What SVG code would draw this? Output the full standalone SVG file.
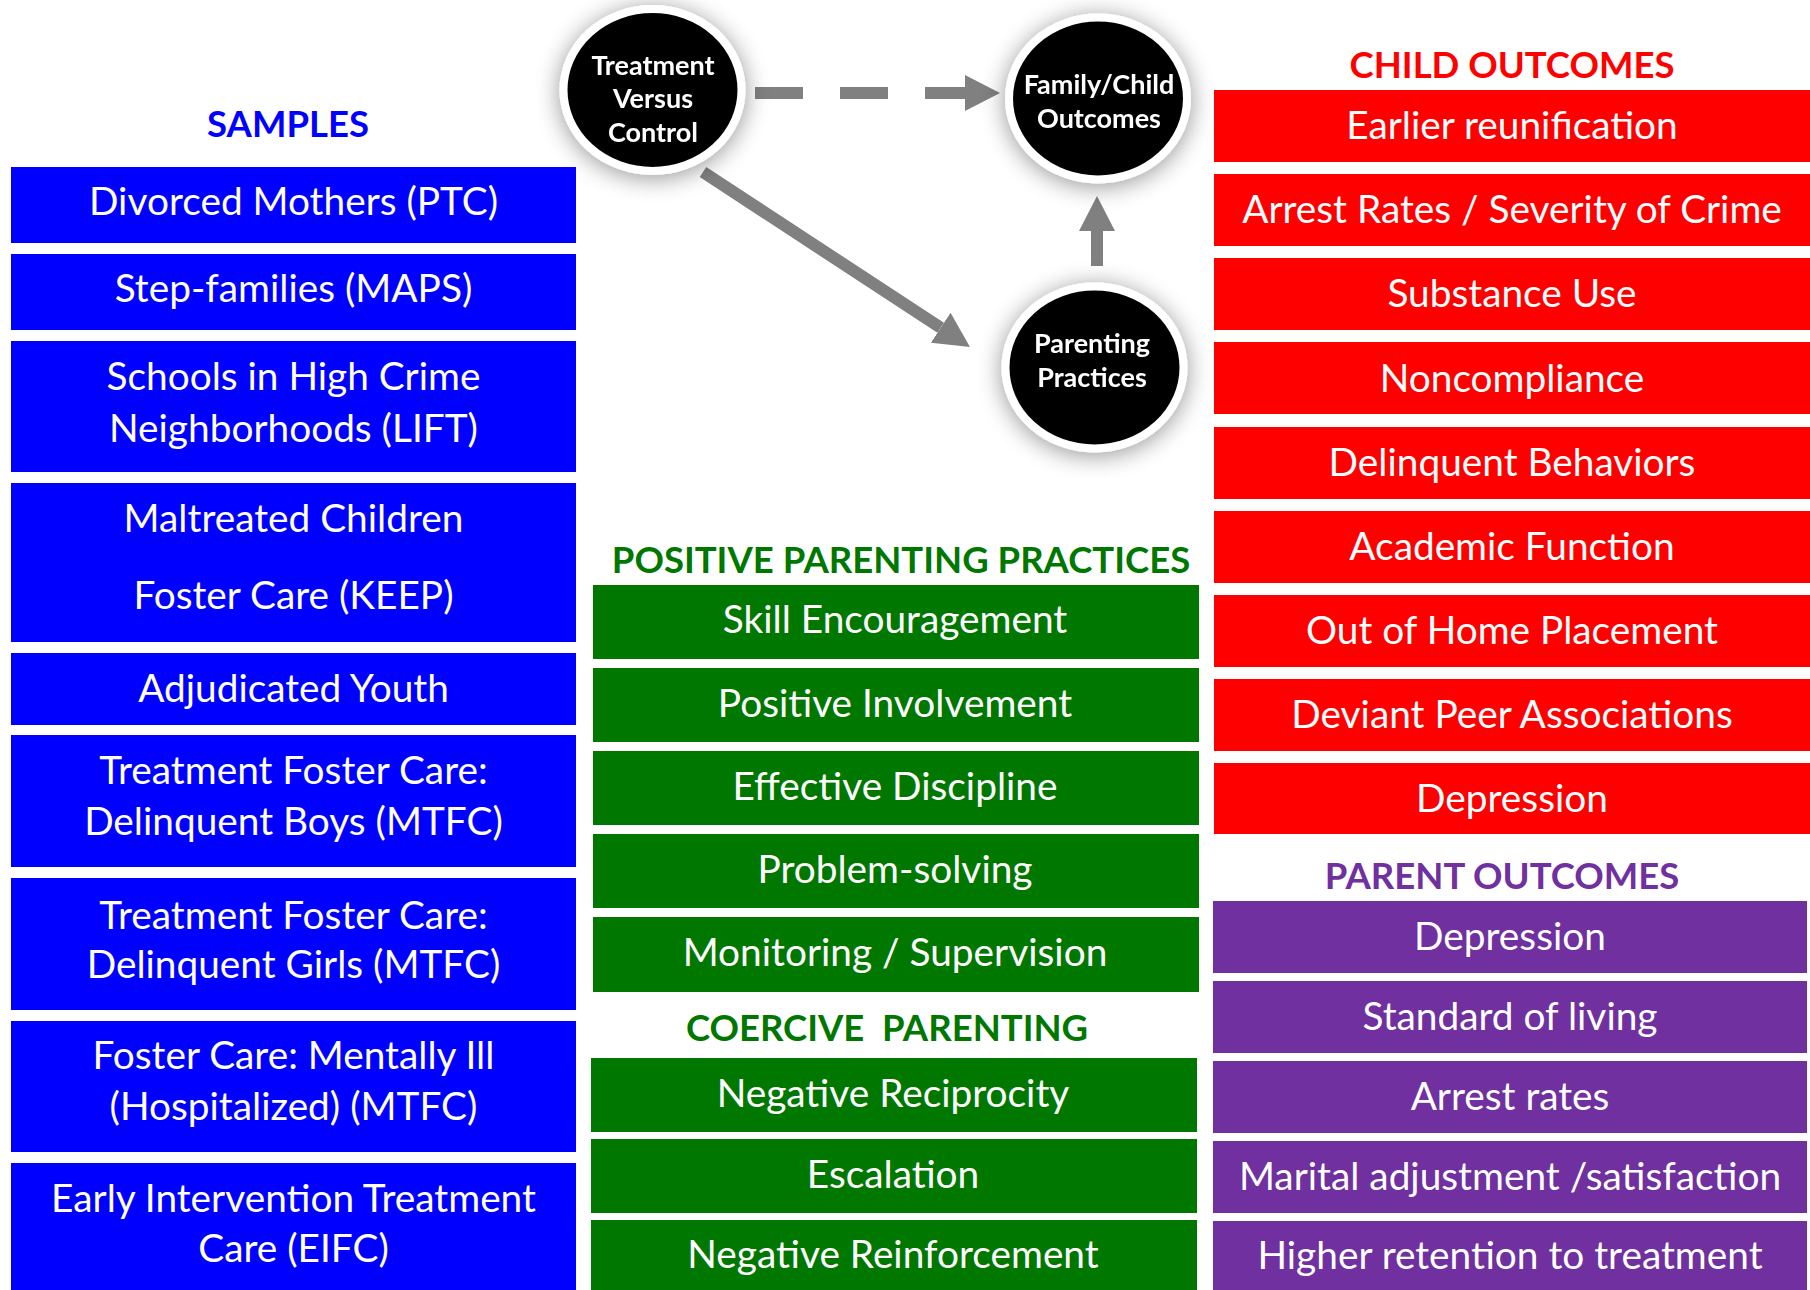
<svg xmlns="http://www.w3.org/2000/svg" width="1810" height="1290" viewBox="0 0 1810 1290">
<defs>
<style>
.t{font-family:Lato,"Open Sans","Liberation Sans",sans-serif;font-size:38.8px;fill:#fff;text-anchor:middle}
.h{font-family:Lato,"Open Sans","Liberation Sans",sans-serif;font-size:36.5px;font-weight:700;text-anchor:middle}
.c{font-family:Lato,"Open Sans","Liberation Sans",sans-serif;font-size:27px;font-weight:700;fill:#fff;text-anchor:middle}
.blue{fill:#0000ff}.green{fill:#007800}.red{fill:#ff0000}.purple{fill:#7030a0}
.circ{fill:#060606;stroke:#fff;stroke-width:8}
.arr{stroke:#808080;stroke-width:12;fill:none}
</style>
<marker id="ah" markerUnits="userSpaceOnUse" markerWidth="36" markerHeight="36" refX="0" refY="18" orient="auto" viewBox="0 0 36 36">
<path d="M0,0 L35,18 L0,36 z" fill="#808080"/>
</marker>
<filter id="glow" x="-50%" y="-50%" width="200%" height="200%">
<feGaussianBlur in="SourceAlpha" stdDeviation="12"/>
<feComponentTransfer><feFuncA type="linear" slope="0.42"/></feComponentTransfer>
<feOffset dx="0" dy="3"/>
<feMerge><feMergeNode/><feMergeNode in="SourceGraphic"/></feMerge>
</filter>
</defs>
<rect width="1810" height="1290" fill="#fff"/>

<!-- Headers -->
<text class="h blue" x="288" y="137">SAMPLES</text>
<text class="h green" x="901" y="573">POSITIVE PARENTING PRACTICES</text>
<text class="h green" x="887" y="1041" xml:space="preserve">COERCIVE  PARENTING</text>
<text class="h red" x="1512" y="78">CHILD OUTCOMES</text>
<text class="h purple" x="1502" y="889">PARENT OUTCOMES</text>

<!-- Connectors -->
<g id="connectors">
<line class="arr" x1="755" y1="93" x2="965" y2="93" stroke-dasharray="48 37" marker-end="url(#ah)"/>
<line class="arr" x1="703" y1="172" x2="940.7" y2="327.8" marker-end="url(#ah)"/>
<line class="arr" x1="1097" y1="266" x2="1097" y2="231" marker-end="url(#ah)"/>
</g>

<!-- Circles -->
<g id="treatment" filter="url(#glow)">
<ellipse class="circ" cx="652.5" cy="90" rx="89" ry="81"/>
<text class="c" x="653" y="75">Treatment</text>
<text class="c" x="653" y="108">Versus</text>
<text class="c" x="653" y="142">Control</text>
</g>
<g id="family-child" filter="url(#glow)">
<ellipse class="circ" cx="1098" cy="98.5" rx="89" ry="81"/>
<text class="c" x="1099" y="94">Family/Child</text>
<text class="c" x="1099" y="128">Outcomes</text>
</g>
<g id="parenting" filter="url(#glow)">
<ellipse class="circ" cx="1094.5" cy="367.5" rx="89" ry="81"/>
<text class="c" x="1092" y="353">Parenting</text>
<text class="c" x="1092" y="387">Practices</text>
</g>

<!-- Samples -->
<g id="s1"><rect class="blue" x="11" y="167" width="565" height="76"/><text class="t" x="293.5" y="215">Divorced Mothers (PTC)</text></g>
<g id="s2"><rect class="blue" x="11" y="254" width="565" height="76"/><text class="t" x="293.5" y="302">Step-families (MAPS)</text></g>
<g id="s3"><rect class="blue" x="11" y="341" width="565" height="131"/><text class="t" x="293.5" y="390">Schools in High Crime</text><text class="t" x="293.5" y="442">Neighborhoods (LIFT)</text></g>
<g id="s4"><rect class="blue" x="11" y="483" width="565" height="159"/><text class="t" x="293.5" y="532">Maltreated Children</text><text class="t" x="293.5" y="609">Foster Care (KEEP)</text></g>
<g id="s5"><rect class="blue" x="11" y="653" width="565" height="72"/><text class="t" x="293.5" y="702">Adjudicated Youth</text></g>
<g id="s6"><rect class="blue" x="11" y="735" width="565" height="132"/><text class="t" x="293.5" y="784">Treatment Foster Care:</text><text class="t" x="293.5" y="835">Delinquent Boys (MTFC)</text></g>
<g id="s7"><rect class="blue" x="11" y="878" width="565" height="132"/><text class="t" x="293.5" y="929">Treatment Foster Care:</text><text class="t" x="293.5" y="978">Delinquent Girls (MTFC)</text></g>
<g id="s8"><rect class="blue" x="11" y="1021" width="565" height="131"/><text class="t" x="293.5" y="1069">Foster Care: Mentally Ill</text><text class="t" x="293.5" y="1120">(Hospitalized) (MTFC)</text></g>
<g id="s9"><rect class="blue" x="11" y="1163" width="565" height="130"/><text class="t" x="293.5" y="1212">Early Intervention Treatment</text><text class="t" x="293.5" y="1262">Care (EIFC)</text></g>

<!-- Parenting practices -->
<g id="p1"><rect class="green" x="593" y="585" width="606" height="74"/><text class="t" x="895" y="633">Skill Encouragement</text></g>
<g id="p2"><rect class="green" x="593" y="668" width="606" height="74"/><text class="t" x="895" y="717">Positive Involvement</text></g>
<g id="p3"><rect class="green" x="593" y="751" width="606" height="74"/><text class="t" x="895" y="800">Effective Discipline</text></g>
<g id="p4"><rect class="green" x="593" y="834" width="606" height="74"/><text class="t" x="895" y="883">Problem-solving</text></g>
<g id="p5"><rect class="green" x="593" y="917" width="606" height="75"/><text class="t" x="895" y="966">Monitoring / Supervision</text></g>
<g id="c1"><rect class="green" x="591" y="1058" width="606" height="74"/><text class="t" x="893" y="1107">Negative Reciprocity</text></g>
<g id="c2"><rect class="green" x="591" y="1139" width="606" height="74"/><text class="t" x="893" y="1188">Escalation</text></g>
<g id="c3"><rect class="green" x="591" y="1220" width="606" height="74"/><text class="t" x="893" y="1268">Negative Reinforcement</text></g>

<!-- Child outcomes -->
<g id="o1"><rect class="red" x="1214" y="90" width="600" height="72"/><text class="t" x="1512" y="139">Earlier reunification</text></g>
<g id="o2"><rect class="red" x="1214" y="174" width="600" height="72"/><text class="t" x="1512" y="223">Arrest Rates / Severity of Crime</text></g>
<g id="o3"><rect class="red" x="1214" y="258" width="600" height="72"/><text class="t" x="1512" y="307">Substance Use</text></g>
<g id="o4"><rect class="red" x="1214" y="342" width="600" height="72"/><text class="t" x="1512" y="392">Noncompliance</text></g>
<g id="o5"><rect class="red" x="1214" y="427" width="600" height="72"/><text class="t" x="1512" y="476">Delinquent Behaviors</text></g>
<g id="o6"><rect class="red" x="1214" y="511" width="600" height="72"/><text class="t" x="1512" y="560">Academic Function</text></g>
<g id="o7"><rect class="red" x="1214" y="595" width="600" height="72"/><text class="t" x="1512" y="644">Out of Home Placement</text></g>
<g id="o8"><rect class="red" x="1214" y="679" width="600" height="72"/><text class="t" x="1512" y="728">Deviant Peer Associations</text></g>
<g id="o9"><rect class="red" x="1214" y="763" width="600" height="71"/><text class="t" x="1512" y="812">Depression</text></g>

<!-- Parent outcomes -->
<g id="q1"><rect class="purple" x="1213" y="901" width="594" height="72"/><text class="t" x="1510" y="950">Depression</text></g>
<g id="q2"><rect class="purple" x="1213" y="981" width="594" height="72"/><text class="t" x="1510" y="1030">Standard of living</text></g>
<g id="q3"><rect class="purple" x="1213" y="1061" width="594" height="72"/><text class="t" x="1510" y="1110">Arrest rates</text></g>
<g id="q4"><rect class="purple" x="1213" y="1141" width="594" height="72"/><text class="t" x="1510" y="1190">Marital adjustment /satisfaction</text></g>
<g id="q5"><rect class="purple" x="1213" y="1221" width="594" height="72"/><text class="t" x="1510" y="1269">Higher retention to treatment</text></g>
</svg>
